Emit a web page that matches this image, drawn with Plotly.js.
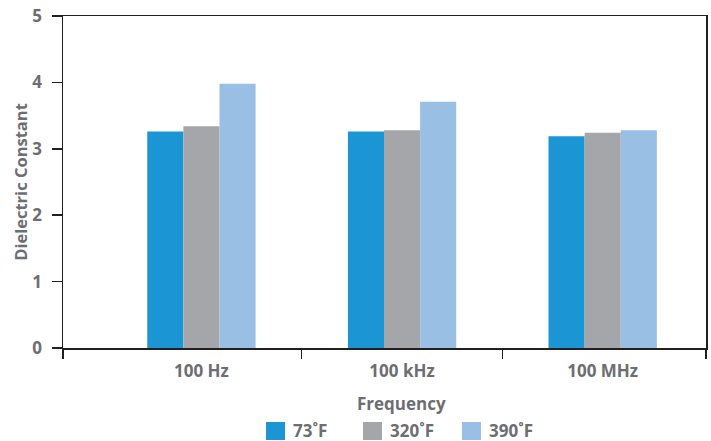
<!DOCTYPE html>
<html>
<head>
<meta charset="utf-8">
<script src="https://cdn.plot.ly/plotly-3.0.1.min.js"></script>
<style>html,body{margin:0;padding:0;background:#fff;}#chart{width:711px;height:441px;}</style>
</head>
<body>
<div id="chart"></div>
<script>
const categories = ['100 Hz', '100 kHz', '100 MHz'];
const seriesNames = ['73˚F', '320˚F', '390˚F'];
const temp73 = [3.26, 3.26, 3.19];
const temp320 = [3.34, 3.28, 3.24];
const temp390 = [3.98, 3.71, 3.28];
const yTickVals = [0, 1, 2, 3, 4, 5];
const xTitle = 'Frequency';
const yTitle = 'Dielectric Constant';

const colors = ['#1B95D3', '#A5A6A9', '#9ABFE5'];
const textColor = '#6D6E71';
const lineColor = '#231F20';
const W = 711, H = 441;
const M = {l: 63, r: 5, t: 16, b: 93};
const pw = W - M.l - M.r, ph = H - M.t - M.b;
const xRange = [-0.69, 2.515];
const font = {family: 'Open Sans, sans-serif', size: 17, color: textColor, weight: 700};

const seriesValues = [temp73, temp320, temp390];
const traces = seriesValues.map((vals, i) => ({
  type: 'bar', x: categories, y: vals, name: seriesNames[i],
  marker: {color: colors[i], line: {width: 0}}, hoverinfo: 'skip'
}));
// empty trace so the overlaying tick axis (category boundaries) is drawn
traces.push({type: 'scatter', x: [], y: [], xaxis: 'x2', yaxis: 'y', showlegend: false, hoverinfo: 'skip'});

// custom legend (squares + labels) placed in pixel space
const px2x = px => (px - M.l) / pw;
const py2y = py => (H - M.b - py) / ph;
const legendLeft = [266, 363, 462];
const shapes = [];
const annotations = [];
seriesNames.forEach((n, i) => {
  shapes.push({type: 'rect', xref: 'paper', yref: 'paper',
    x0: px2x(legendLeft[i]), x1: px2x(legendLeft[i] + 19),
    y0: py2y(440), y1: py2y(422), fillcolor: colors[i], line: {width: 0}});
  annotations.push({xref: 'paper', yref: 'paper', x: px2x(legendLeft[i] + 25), y: py2y(430),
    xanchor: 'left', yanchor: 'middle', showarrow: false, text: n, font: font});
});
annotations.push({xref: 'paper', yref: 'paper', x: px2x(401), y: py2y(404),
  xanchor: 'center', yanchor: 'middle', showarrow: false, text: xTitle, font: font});

const layout = {
  width: W, height: H, margin: M,
  paper_bgcolor: '#fff', plot_bgcolor: '#fff',
  showlegend: false, barmode: 'group', bargap: 0.46, bargroupgap: 0,
  font: font,
  xaxis: {type: 'category', range: xRange, ticks: '', showline: true, mirror: true,
    linecolor: lineColor, linewidth: 1.5, showgrid: false, zeroline: false,
    tickfont: font, ticklabelstandoff: 7},
  xaxis2: {overlaying: 'x', anchor: 'y', type: 'linear', range: xRange,
    tickvals: [xRange[0], 0.5, 1.5, xRange[1]], ticks: 'outside', ticklen: 10, tickwidth: 1.5,
    tickcolor: lineColor, showticklabels: false, showline: false, showgrid: false, zeroline: false, side: 'bottom'},
  yaxis: {range: [0, 5], tickvals: yTickVals, ticks: 'outside', ticklen: 10, tickwidth: 1.5,
    tickcolor: lineColor, showline: true, mirror: true, linecolor: lineColor, linewidth: 1.5,
    showgrid: false, zeroline: false, tickfont: font, ticklabelstandoff: 6,
    title: {text: yTitle, font: Object.assign({}, font, {size: 16.5}), standoff: 0}},
  shapes: shapes, annotations: annotations
};

Plotly.newPlot('chart', traces, layout, {displayModeBar: false, staticPlot: true});
</script>
</body>
</html>
